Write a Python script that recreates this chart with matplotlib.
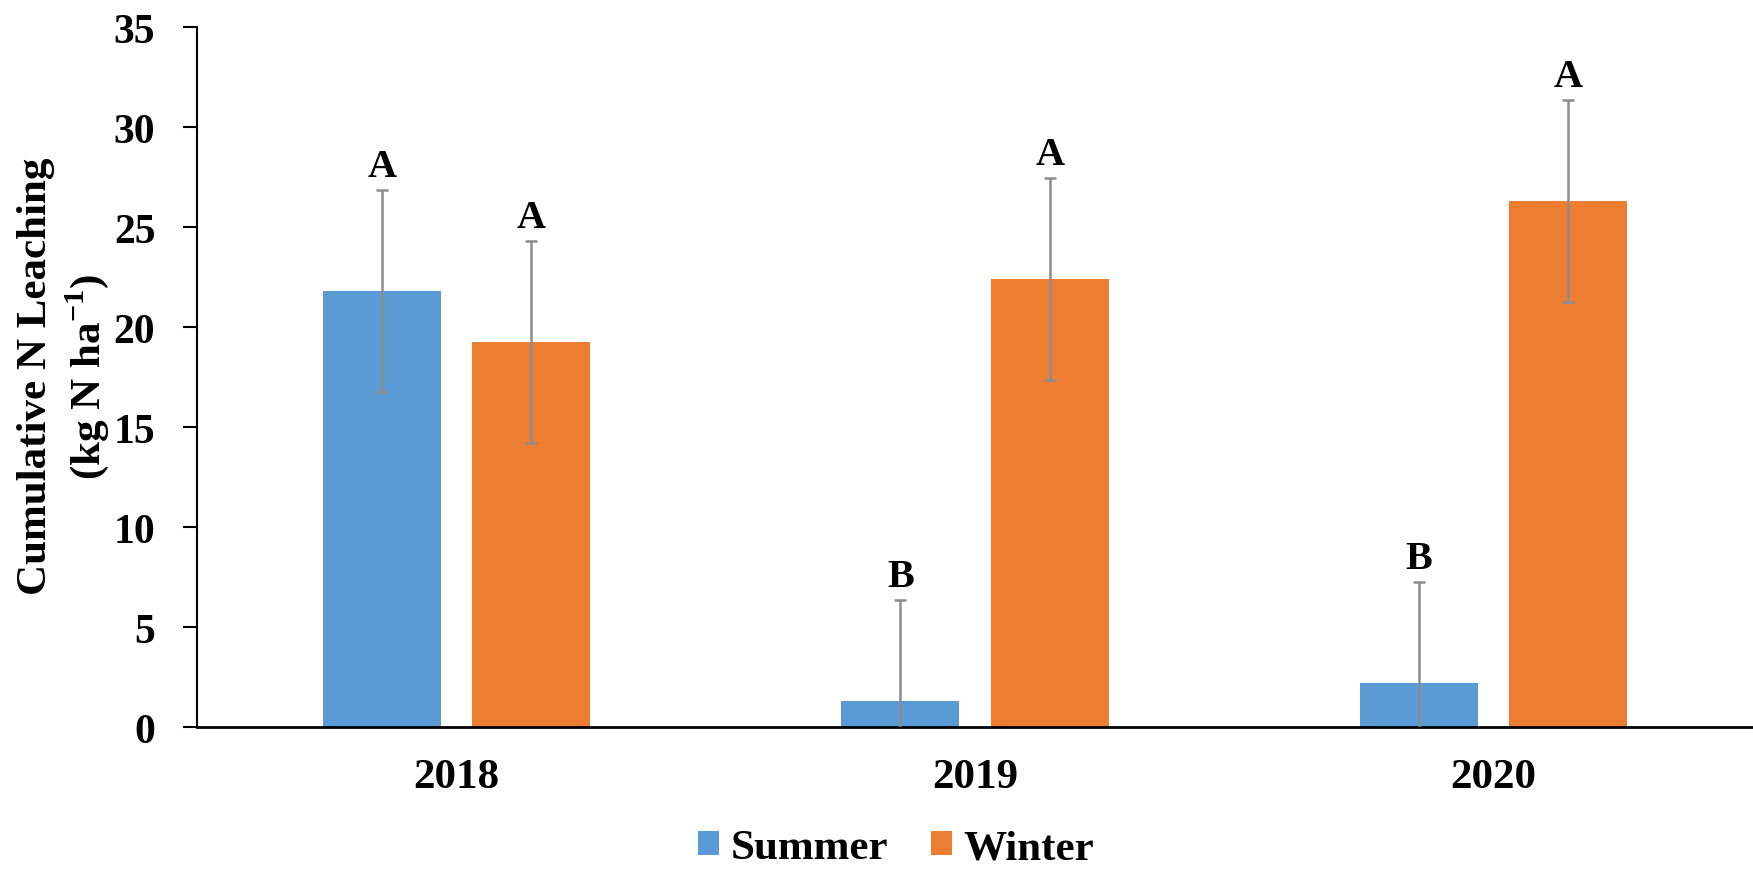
import matplotlib
matplotlib.use('Agg')
import matplotlib.pyplot as plt
import numpy as np

plt.rcParams['font.family'] = 'Liberation Serif'
plt.rcParams['font.weight'] = 'bold'
plt.rcParams['mathtext.fontset'] = 'custom'
plt.rcParams['mathtext.rm'] = 'Liberation Serif:bold'
plt.rcParams['mathtext.bf'] = 'Liberation Serif:bold'

# Cumulative N leaching per season and year
years = ['2018', '2019', '2020']
summer = [21.8, 1.3, 2.2]
winter = [19.25, 22.4, 26.3]
summer_err = [5.03, 5.03, 5.03]
winter_err = [5.03, 5.03, 5.03]
summer_letters = ['A', 'B', 'B']
winter_letters = ['A', 'A', 'A']

blue = '#5B9BD5'
orange = '#ED7D31'

fig = plt.figure(figsize=(17.53, 8.70), dpi=100)
ax = fig.add_axes([0.1124, 0.1632, 0.8876, 0.8046])

x = np.arange(len(years))
w = 0.228
off = 0.144

ax.bar(x - off, summer, w, color=blue, label='Summer', zorder=2)
ax.bar(x + off, winter, w, color=orange, label='Winter', zorder=2)

# error bars: lighter stem, darker caps
for xs, vals, errs in [(x - off, summer, summer_err), (x + off, winter, winter_err)]:
    eb = ax.errorbar(xs, vals, yerr=errs, fmt='none', ecolor='#8c8c8c',
                     elinewidth=1.8, capsize=4.5, capthick=1.8, zorder=3)
    for cap in eb[1]:
        cap.set_color('#595959')

# significance letters above the error bars
for xs, vals, errs, letters in [(x - off, summer, summer_err, summer_letters),
                                (x + off, winter, winter_err, winter_letters)]:
    for xi, v, e, t in zip(xs, vals, errs, letters):
        ax.text(xi, v + e + 0.7, t, ha='center', va='baseline',
                fontsize=29, fontweight='bold')

ax.set_xlim(-0.5, 2.5)
ax.set_ylim(0, 35)
ax.set_yticks(range(0, 36, 5))
ax.set_xticks(x)
ax.set_xticklabels(years)

for s in ['top', 'right']:
    ax.spines[s].set_visible(False)
ax.spines['left'].set_linewidth(1.5)
ax.spines['bottom'].set_linewidth(2)

ax.tick_params(axis='y', direction='out', length=10, width=1.5, pad=20, labelsize=30)
ax.tick_params(axis='x', length=0, pad=22, labelsize=31)

fig.text(0.0365, 0.567, 'Cumulative N Leaching\n(kg N ha$^{-1}$)', rotation=90,
         ha='center', va='center', fontsize=31, fontweight='bold', linespacing=1.2,
         multialignment='center')

fig.legend(loc='center', bbox_to_anchor=(0.511, 0.024), ncol=2, frameon=False,
           fontsize=31, handlelength=0.5, handleheight=0.5, handletextpad=0.25,
           columnspacing=1.0, borderpad=0)

fig.savefig('out.png', dpi=100)
